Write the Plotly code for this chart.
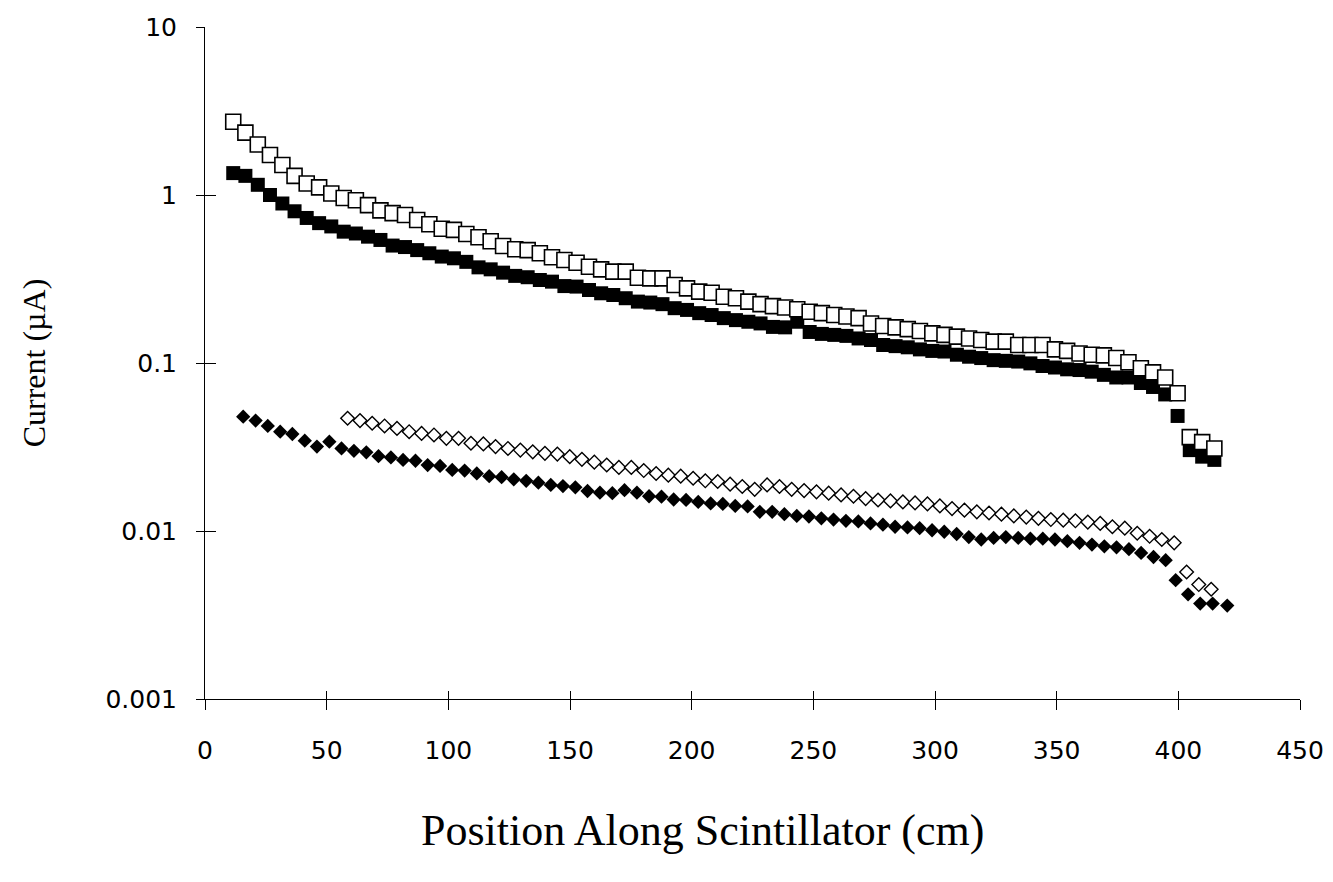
import plotly.graph_objects as go

# x positions (cm)
pos_squares = [11.6, 16.6, 21.7, 26.7, 31.8, 36.8, 41.8, 46.9, 51.9, 57.0,
               62.0, 67.0, 72.1, 77.1, 82.2, 87.2, 92.2, 97.3, 102.3, 107.4,
               112.4, 117.4, 122.5, 127.5, 132.6, 137.6, 142.6, 147.7, 152.7, 157.8,
               162.8, 167.8, 172.9, 177.9, 183.0, 188.0, 193.0, 198.1, 203.1, 208.2,
               213.2, 218.2, 223.3, 228.3, 233.4, 238.4, 243.4, 248.5, 253.5, 258.6,
               263.6, 268.6, 273.7, 278.7, 283.8, 288.8, 293.8, 298.9, 303.9, 309.0,
               314.0, 319.0, 324.1, 329.1, 334.2, 339.2, 344.2, 349.3, 354.3, 359.4,
               364.4, 369.4, 374.5, 379.5, 384.6, 389.6, 394.6, 399.7, 404.7, 409.8,
               414.8]

open_squares = [2.73, 2.35, 2.0, 1.73, 1.51, 1.30, 1.17, 1.11, 1.02, 0.96,
                0.93, 0.87, 0.81, 0.78, 0.76, 0.71, 0.67, 0.63, 0.62, 0.586,
                0.56, 0.53, 0.497, 0.475, 0.47, 0.45, 0.426, 0.41, 0.395, 0.374,
                0.361, 0.35, 0.35, 0.322, 0.319, 0.319, 0.291, 0.278, 0.266, 0.262,
                0.248, 0.243, 0.232, 0.224, 0.218, 0.214, 0.209, 0.202, 0.198, 0.193,
                0.189, 0.185, 0.172, 0.166, 0.163, 0.159, 0.155, 0.150, 0.147, 0.1435,
                0.140, 0.137, 0.134, 0.134, 0.128, 0.128, 0.128, 0.1205, 0.118, 0.114,
                0.112, 0.111, 0.107, 0.101, 0.093, 0.088, 0.082, 0.066, 0.0362, 0.0338,
                0.031]

filled_squares = [1.35, 1.30, 1.15, 1.0, 0.89, 0.80, 0.73, 0.68, 0.65, 0.605,
                  0.59, 0.565, 0.54, 0.50, 0.49, 0.47, 0.45, 0.43, 0.42, 0.40,
                  0.371, 0.361, 0.345, 0.33, 0.324, 0.312, 0.305, 0.287, 0.285, 0.272,
                  0.26, 0.254, 0.243, 0.232, 0.229, 0.224, 0.212, 0.207, 0.198, 0.193,
                  0.185, 0.180, 0.176, 0.172, 0.164, 0.163, 0.176, 0.153, 0.149, 0.147,
                  0.145, 0.140, 0.137, 0.128, 0.126, 0.124, 0.1205, 0.118, 0.117, 0.112,
                  0.109, 0.107, 0.104, 0.103, 0.102, 0.0995, 0.096, 0.094, 0.0917, 0.0908,
                  0.0888, 0.085, 0.082, 0.082, 0.076, 0.072, 0.065, 0.0484, 0.0303, 0.0277,
                  0.0265]

pos_filled_diamonds = [15.7, 20.8, 25.8, 30.9, 35.9, 41.0, 46.0, 51.1, 56.1, 61.2,
                       66.3, 71.3, 76.4, 81.4, 86.5, 91.5, 96.6, 101.6, 106.7, 111.7,
                       116.8, 121.9, 126.9, 132.0, 137.0, 142.1, 147.1, 152.2, 157.2, 162.3,
                       167.4, 172.4, 177.5, 182.5, 187.6, 192.6, 197.7, 202.7, 207.8, 212.8,
                       217.9, 223.0, 228.0, 233.1, 238.1, 243.2, 248.2, 253.3, 258.3, 263.4,
                       268.5, 273.5, 278.6, 283.6, 288.7, 293.7, 298.8, 303.8, 308.9, 313.9,
                       319.0, 324.1, 329.1, 334.2, 339.2, 344.3, 349.3, 354.4, 359.4, 364.5,
                       369.6, 374.6, 379.7, 384.7, 389.8, 394.8, 398.9, 404.0, 409.0, 414.1,
                       420.1]

filled_diamonds = [0.0479, 0.0454, 0.0422, 0.039, 0.0378, 0.0345, 0.0318, 0.034, 0.031, 0.030,
                   0.0294, 0.0279, 0.0274, 0.0265, 0.0262, 0.0247, 0.0244, 0.0231, 0.0229, 0.022,
                   0.0212, 0.0209, 0.0203, 0.0199, 0.0194, 0.0188, 0.0185, 0.0182, 0.0173, 0.0169,
                   0.0168, 0.0175, 0.0169, 0.0161, 0.016, 0.0154, 0.0153, 0.0149, 0.0146, 0.0145,
                   0.0141, 0.0140, 0.0130, 0.0130, 0.0126, 0.0123, 0.0122, 0.0119, 0.0117, 0.0115,
                   0.0114, 0.0111, 0.0109, 0.0106, 0.0105, 0.0104, 0.0101, 0.0099, 0.0096, 0.0092,
                   0.0089, 0.0091, 0.0092, 0.0091, 0.0090, 0.0090, 0.0089, 0.0087, 0.0085, 0.0083,
                   0.0081, 0.0080, 0.0078, 0.0074, 0.0070, 0.0067, 0.0051, 0.0042, 0.0037, 0.0037,
                   0.0036]

pos_open_diamonds = [58.6, 63.7, 68.7, 73.8, 78.9, 83.9, 89.0, 94.1, 99.2, 104.2,
                     109.3, 114.4, 119.4, 124.5, 129.6, 134.7, 139.7, 144.8, 149.9, 154.9,
                     160.0, 165.1, 170.1, 175.2, 180.3, 185.4, 190.4, 195.5, 200.6, 205.6,
                     210.7, 215.8, 220.8, 225.9, 231.0, 236.1, 241.1, 246.2, 251.3, 256.3,
                     261.4, 266.5, 271.5, 276.6, 281.7, 286.8, 291.8, 296.9, 302.0, 307.0,
                     312.1, 317.2, 322.2, 327.3, 332.4, 337.5, 342.5, 347.6, 352.7, 357.7,
                     362.8, 367.9, 372.9, 378.0, 383.1, 388.2, 393.2, 398.3, 403.4, 408.4,
                     413.5]

open_diamonds = [0.0469, 0.0454, 0.0438, 0.0422, 0.0408, 0.039, 0.0381, 0.0373, 0.0356, 0.0356,
                 0.0333, 0.033, 0.0318, 0.031, 0.0303, 0.0296, 0.029, 0.0287, 0.0277, 0.0267,
                 0.0257, 0.0247, 0.0239, 0.0239, 0.0229, 0.022, 0.0215, 0.0212, 0.0206, 0.0199,
                 0.0197, 0.019, 0.0184, 0.0177, 0.0188, 0.0184, 0.0177, 0.0174, 0.0171, 0.0168,
                 0.0164, 0.0161, 0.0156, 0.0153, 0.0151, 0.0149, 0.0147, 0.0145, 0.0141, 0.0136,
                 0.0133, 0.013, 0.0128, 0.0126, 0.0123, 0.0121, 0.0119, 0.0117, 0.0116, 0.0115,
                 0.0113, 0.0111, 0.0106, 0.0104, 0.0097, 0.0093, 0.0089, 0.0085, 0.0057, 0.0048,
                 0.0045]

x_ticks = [0, 50, 100, 150, 200, 250, 300, 350, 400, 450]
y_ticks = [0.001, 0.01, 0.1, 1, 10]
y_tick_text = ["0.001", "0.01", "0.1", "1", "10"]
x_title = "Position Along Scintillator (cm)"
y_title = "Current (µA)"

fig = go.Figure()

fig.add_trace(go.Scatter(x=pos_squares, y=filled_squares, mode="markers",
                         marker=dict(symbol="square", size=14, color="black",
                                     line=dict(width=0))))
fig.add_trace(go.Scatter(x=pos_squares, y=open_squares, mode="markers",
                         marker=dict(symbol="square", size=15, color="white",
                                     line=dict(color="black", width=1.6))))
fig.add_trace(go.Scatter(x=pos_filled_diamonds, y=filled_diamonds, mode="markers",
                         marker=dict(symbol="diamond", size=11, color="black",
                                     line=dict(width=0))))
fig.add_trace(go.Scatter(x=pos_open_diamonds, y=open_diamonds, mode="markers",
                         marker=dict(symbol="diamond", size=10.5, color="white",
                                     line=dict(color="black", width=1.4))))
# invisible trace to anchor overlay axes (for crossing tick marks)
fig.add_trace(go.Scatter(x=[x_ticks[0]], y=[y_ticks[0]], xaxis="x2", yaxis="y2",
                         mode="markers", marker=dict(opacity=0), hoverinfo="skip"))

tick_font = dict(family="DejaVu Sans, Arial, sans-serif", size=25, color="black")
xtitle_font = dict(family="Liberation Serif, Times New Roman, serif", size=44, color="black")
ytitle_font = dict(family="Liberation Serif, Times New Roman, serif", size=32, color="black")

fig.update_layout(
    width=1333, height=882,
    margin=dict(l=197, r=41, t=19, b=191, autoexpand=False),
    paper_bgcolor="white", plot_bgcolor="white",
    showlegend=False,
    xaxis=dict(range=[0, 450], tickvals=x_ticks, ticks="outside", ticklen=10,
               tickwidth=1, tickcolor="black", showline=True, linecolor="black",
               linewidth=1, showgrid=False, zeroline=False, tickfont=tick_font,
               ticklabelstandoff=19, automargin=False),
    yaxis=dict(type="log", range=[-3, 1], tickvals=y_ticks, ticktext=y_tick_text,
               ticks="outside", ticklen=8, tickwidth=1, tickcolor="black",
               showline=True, linecolor="black", linewidth=1, showgrid=False,
               zeroline=False, tickfont=tick_font, ticklabelstandoff=14, automargin=False,
               title=dict(text=y_title, font=ytitle_font, standoff=50)),
    xaxis2=dict(range=[0, 450], overlaying="x", anchor="y2", tickvals=x_ticks,
                ticks="inside", ticklen=8, tickwidth=1, tickcolor="black",
                showticklabels=False, showline=False, showgrid=False, zeroline=False),
    yaxis2=dict(type="log", range=[-3, 1], overlaying="y", anchor="x2",
                tickvals=y_ticks, ticks="inside", ticklen=11, tickwidth=1,
                tickcolor="black", showticklabels=False, showline=False,
                showgrid=False, zeroline=False),
    annotations=[dict(text=x_title, xref="paper", yref="paper", x=0.454, y=-0.195,
                      xanchor="center", yanchor="middle", showarrow=False,
                      font=xtitle_font)],
)

fig.write_html("out.html")
